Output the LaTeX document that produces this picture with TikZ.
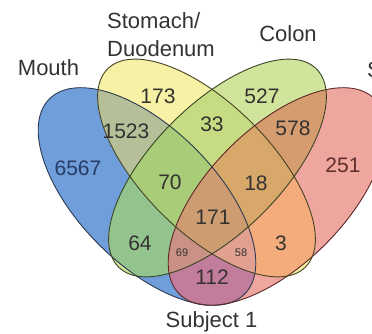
\documentclass[tikz,border=0pt]{standalone}
\usepackage{fontspec}
\setmainfont{Liberation Sans}
% fills of the regions
\definecolor{mfill}{RGB}{111,158,219}
\definecolor{sfill}{RGB}{246,241,165}
\definecolor{cfill}{RGB}{208,228,155}
\definecolor{tfill}{RGB}{239,166,158}
\definecolor{msfill}{RGB}{182,192,152}
\definecolor{mcfill}{RGB}{148,196,142}
\definecolor{mtfill}{RGB}{194,124,156}
\definecolor{scfill}{RGB}{198,220,130}
\definecolor{stfill}{RGB}{245,172,124}
\definecolor{ctfill}{RGB}{213,156,112}
\definecolor{mscfill}{RGB}{168,204,120}
\definecolor{mstfill}{RGB}{226,160,145}
\definecolor{mctfill}{RGB}{202,146,134}
\definecolor{sctfill}{RGB}{216,168,106}
\definecolor{allfill}{RGB}{205,156,112}
% outlines and text
\definecolor{mline}{RGB}{44,58,82}
\definecolor{sline}{RGB}{70,66,36}
\definecolor{cline}{RGB}{56,70,36}
\definecolor{tline}{RGB}{92,40,40}
\definecolor{numtext}{RGB}{52,50,48}
\definecolor{mtext}{RGB}{40,60,102}
\definecolor{ttext}{RGB}{96,46,46}
\tikzset{
  setline/.style={line width=0.9pt},
  setname/.style={font=\fontsize{22}{28}\selectfont, text=black!80, inner sep=0pt},
  count/.style={font=\fontsize{21}{21}\selectfont, text=numtext, inner sep=0pt},
  smallcount/.style={font=\fontsize{11}{11}\selectfont, text=numtext, inner sep=0pt},
}
\begin{document}
\begin{tikzpicture}[x=1pt,y=1pt]
  \useasboundingbox (0,0) rectangle (372,334);
  % the four ellipses
  \def\mouthshape{(147,137.5) circle [x radius=138pt, y radius=68pt, rotate=-45]}
  \def\stomshape{(206.5,166) circle [x radius=140pt, y radius=64pt, rotate=-45]}
  \def\colonshape{(217.5,166) circle [x radius=140pt, y radius=64pt, rotate=45]}
  \def\stoolshape{(277,137.5) circle [x radius=138pt, y radius=68pt, rotate=45]}
  % fill of an overlap: clip to the first sets, fill the last one
  \def\pairfill#1#2#3{
    \begin{scope}
      \clip #1;
      \fill[#3] #2;
    \end{scope}
  }
  \def\triplefill#1#2#3#4{
    \begin{scope}
      \clip #1;
      \clip #2;
      \fill[#4] #3;
    \end{scope}
  }
  % one set
  \fill[mfill] \mouthshape;
  \fill[tfill] \stoolshape;
  \fill[sfill] \stomshape;
  \fill[cfill] \colonshape;
  % two sets
  \pairfill{\mouthshape}{\stomshape}{msfill}
  \pairfill{\mouthshape}{\colonshape}{mcfill}
  \pairfill{\mouthshape}{\stoolshape}{mtfill}
  \pairfill{\stomshape}{\colonshape}{scfill}
  \pairfill{\stomshape}{\stoolshape}{stfill}
  \pairfill{\colonshape}{\stoolshape}{ctfill}
  % three sets
  \triplefill{\mouthshape}{\stomshape}{\colonshape}{mscfill}
  \triplefill{\mouthshape}{\stomshape}{\stoolshape}{mstfill}
  \triplefill{\mouthshape}{\colonshape}{\stoolshape}{mctfill}
  \triplefill{\stomshape}{\colonshape}{\stoolshape}{sctfill}
  % all four
  \begin{scope}
    \clip \mouthshape;
    \clip \stomshape;
    \clip \colonshape;
    \fill[allfill] \stoolshape;
  \end{scope}
  % outlines
  \draw[setline, mline] \mouthshape;
  \draw[setline, tline] \stoolshape;
  \draw[setline, sline] \stomshape;
  \draw[setline, cline] \colonshape;
  % counts
  \node[count, text=mtext] (nm) at (78,166) {6567};
  \node[count] (ns) at (158,238) {173};
  \node[count] (nc) at (262,238) {527};
  \node[count, text=ttext] (nt) at (343,169) {251};
  \node[count] (nms) at (126,203) {1523};
  \node[count] (nsc) at (212,210) {33};
  \node[count] (nct) at (293,206) {578};
  \node[count] (nmsc) at (170,152) {70};
  \node[count] (nsct) at (256,151) {18};
  \node[count] (nall) at (213,117) {171};
  \node[count] (nmc) at (140,91) {64};
  \node[count] (nst) at (281,91) {3};
  \node[smallcount] (nmct) at (182,81) {69};
  \node[smallcount] (nmst) at (241,81) {58};
  \node[count] (nmt) at (212,57) {112};
  % set names
  \node[setname, anchor=base] (lmouth) at (48.5,258) {Mouth};
  \node[setname, anchor=north west, align=left] (lstomach) at (107,321.5) {Stomach/\\Duodenum};
  \node[setname, anchor=base] (lcolon) at (288,292.3) {Colon};
  \node[setname, anchor=base west] (lstool) at (367,256) {Stool};
  \node[setname, anchor=base] (lsubject) at (211.5,6.5) {Subject 1};
\end{tikzpicture}
\end{document}
